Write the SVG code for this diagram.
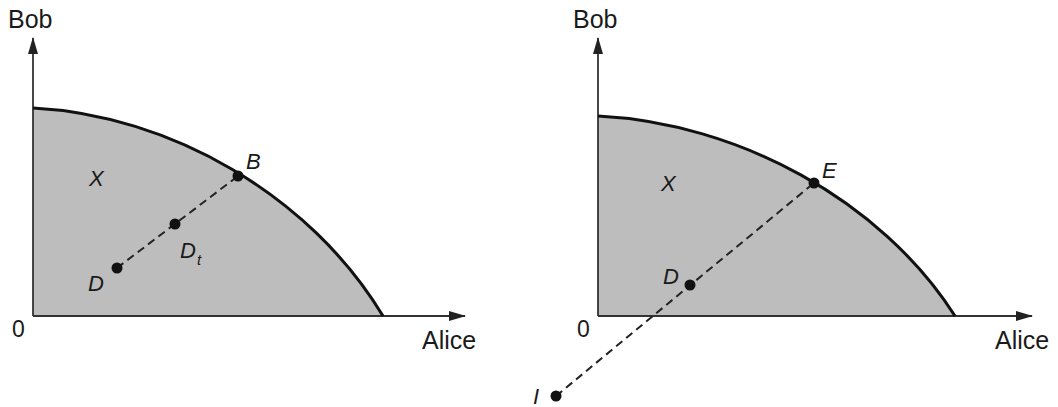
<svg xmlns="http://www.w3.org/2000/svg" width="1058" height="407" viewBox="0 0 1058 407">
<style>
.region{fill:#bdbdbd;stroke:none}
.curve{fill:none;stroke:#111;stroke-width:3}
.axis{fill:none;stroke:#333;stroke-width:1.8}
.dash{fill:none;stroke:#222;stroke-width:2;stroke-dasharray:8 5}
.dot{fill:#111}
.lbl{font-family:"Liberation Sans",Arial,sans-serif;font-size:25px;fill:#1a1a1a}
.num{font-family:"Liberation Sans",Arial,sans-serif;font-size:23px;fill:#1a1a1a}
.it{font-family:"Liberation Sans",Arial,sans-serif;font-size:22px;font-style:italic;fill:#1a1a1a}
.sub{font-family:"Liberation Sans",Arial,sans-serif;font-size:15px;font-style:italic;fill:#1a1a1a}
</style>
<defs>
<marker id="arr" viewBox="0 0 17 10" refX="16" refY="5" markerWidth="17" markerHeight="10" markerUnits="userSpaceOnUse" orient="auto">
<path d="M0,0 L17,5 L0,10 Z" fill="#222"/>
</marker>
</defs>

<g id="left-plot">
<path class="region" d="M33,108 C170,115 310,195 383,316 L33,316 Z"/>
<g id="left-axes">
<line class="axis" x1="33" y1="316" x2="33" y2="38" marker-end="url(#arr)"/>
<line class="axis" x1="33" y1="316" x2="465" y2="316" marker-end="url(#arr)"/>
</g>
<path class="curve" d="M33,108 C170,115 310,195 383,316"/>
<g id="left-connectors">
<line class="dash" x1="117" y1="268" x2="238" y2="176"/>
</g>
<g id="left-D"><circle class="dot" cx="117" cy="268" r="5.5"/><text class="it" x="88" y="291">D</text></g>
<g id="left-Dt"><circle class="dot" cx="175" cy="224" r="5.5"/><text class="it" x="180" y="258">D</text><text class="sub" x="197" y="265">t</text></g>
<g id="left-B"><circle class="dot" cx="238" cy="176" r="5.5"/><text class="it" x="246" y="169">B</text></g>
<text class="it" x="89" y="186">X</text>
<text class="lbl" x="8" y="28">Bob</text>
<text class="num" x="12" y="337">0</text>
<text class="lbl" x="422" y="349">Alice</text>
</g>

<g id="right-plot">
<path class="region" d="M598,116 C738,123 881,200 955,316 L598,316 Z"/>
<g id="right-axes">
<line class="axis" x1="598" y1="316" x2="598" y2="38" marker-end="url(#arr)"/>
<line class="axis" x1="598" y1="316" x2="1032" y2="316" marker-end="url(#arr)"/>
</g>
<path class="curve" d="M598,116 C738,123 881,200 955,316"/>
<g id="right-connectors">
<line class="dash" x1="556" y1="396" x2="814" y2="183"/>
</g>
<g id="right-E"><circle class="dot" cx="814" cy="183" r="5.5"/><text class="it" x="822" y="178">E</text></g>
<g id="right-D"><circle class="dot" cx="690" cy="285" r="5.5"/><text class="it" x="663" y="284">D</text></g>
<g id="right-I"><circle class="dot" cx="556" cy="396" r="5.5"/><text class="it" x="533" y="404">I</text></g>
<text class="it" x="661" y="191">X</text>
<text class="lbl" x="573" y="28">Bob</text>
<text class="num" x="577" y="337">0</text>
<text class="lbl" x="995" y="349">Alice</text>
</g>
</svg>
